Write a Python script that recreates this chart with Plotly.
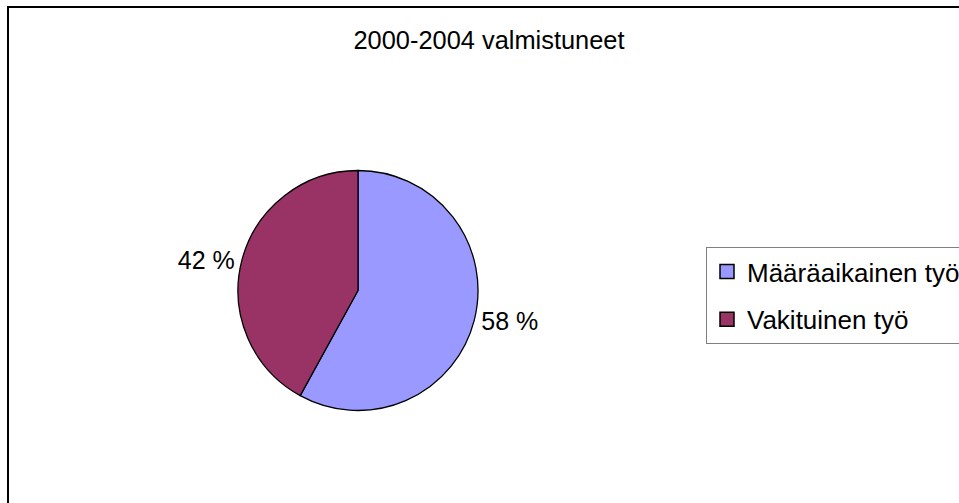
import plotly.graph_objects as go

categories = ["Määräaikainen työ", "Vakituinen työ"]
values = [58, 42]
colors = ["#9999FF", "#993366"]
title_text = "2000-2004 valmistuneet"

W, H = 959, 503
FONT = "Liberation Sans, Arial, sans-serif"

fig = go.Figure()
fig.add_trace(go.Pie(
    labels=categories,
    values=values,
    sort=False,
    direction="clockwise",
    rotation=0,
    marker=dict(colors=colors, line=dict(color="black", width=1.3)),
    texttemplate="%{value} %",
    textposition="outside",
    textfont=dict(family=FONT, size=25, color="black"),
    hoverinfo="skip",
    showlegend=False,
    domain=dict(x=[238 / W, 478 / W], y=[1 - 410.5 / H, 1 - 170.5 / H]),
))

# legend entries (one per category)
for i, (name, col) in enumerate(zip(categories, colors)):
    fig.add_trace(go.Scatter(
        x=[None], y=[None], mode="markers", name=name,
        legendgroup=f"g{i}",
        marker=dict(symbol="square", size=14, color=col,
                    line=dict(color="black", width=1.5)),
        hoverinfo="skip",
    ))

fig.update_layout(
    width=W, height=H,
    margin=dict(l=0, r=0, t=0, b=0, autoexpand=False),
    paper_bgcolor="white",
    plot_bgcolor="white",
    font=dict(family=FONT, color="black"),
    xaxis=dict(visible=False),
    yaxis=dict(visible=False),
    title=dict(text=title_text, x=489 / W, xanchor="center", y=1 - 40 / H, yanchor="middle",
               font=dict(family=FONT, size=25.4, color="black")),
    showlegend=True,
    legend=dict(x=706 / W, xanchor="left", y=1 - 247 / H, yanchor="top",
                bordercolor="#808080", borderwidth=1, bgcolor="white",
                tracegroupgap=11, itemsizing="trace",
                font=dict(family=FONT, size=26, color="black")),
    shapes=[dict(type="rect", xref="paper", yref="paper",
                 x0=8 / W, x1=1.2, y0=-0.2, y1=1 - 7 / H,
                 line=dict(color="black", width=2), fillcolor="rgba(0,0,0,0)")],
)

fig.write_html("out.html", config={"displayModeBar": False},
               post_script="document.body.style.margin='0';")
